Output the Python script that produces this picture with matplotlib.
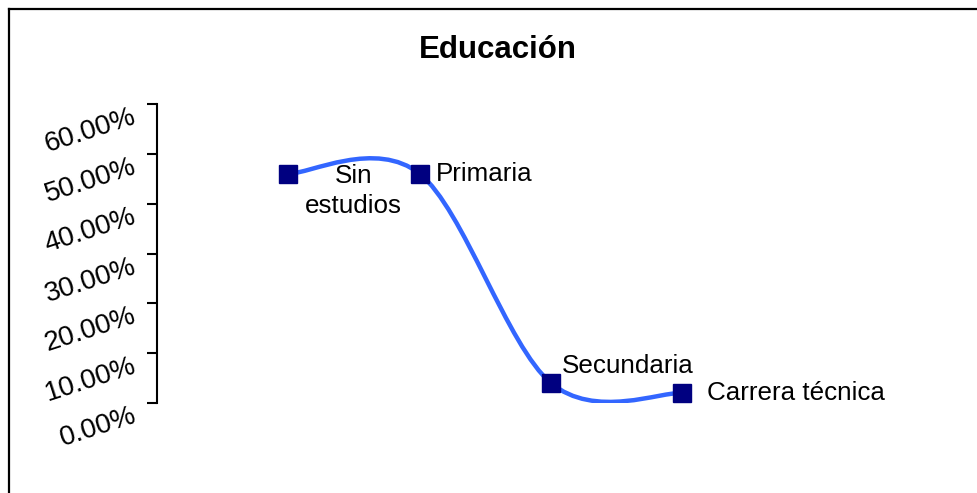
import numpy as np
import matplotlib
matplotlib.use("Agg")
from matplotlib import pyplot as plt
from matplotlib.path import Path
from matplotlib.patches import PathPatch
from matplotlib.lines import Line2D
from matplotlib.ticker import FuncFormatter

plt.rcParams['font.family'] = ['Liberation Sans', 'DejaVu Sans']

categories = ["Sin\nestudios", "Primaria", "Secundaria", "Carrera técnica"]
values = [46.0, 46.0, 4.0, 2.0]   # percent
yticks = [0, 10, 20, 30, 40, 50, 60]

fig = plt.figure(figsize=(9.77, 4.93), dpi=100)
W, H = 977.0, 493.0
ax = fig.add_axes([157 / W, 1 - 403 / H, (748 - 157) / W, (403 - 104) / H])

x = np.arange(len(values), dtype=float)
y = np.array(values, dtype=float)

# smoothed line (excel style bezier through the points)
pts = np.column_stack((x, y))
n = len(pts)
verts = [tuple(pts[0])]
codes = [Path.MOVETO]
for i in range(n - 1):
    p_prev = pts[i - 1] if i > 0 else pts[i]
    p_next2 = pts[i + 2] if i + 2 < n else pts[i + 1]
    c1 = pts[i] + (pts[i + 1] - p_prev) / 6.0
    c2 = pts[i + 1] - (p_next2 - pts[i]) / 6.0
    verts += [tuple(c1), tuple(c2), tuple(pts[i + 1])]
    codes += [Path.CURVE4] * 3
ax.add_patch(PathPatch(Path(verts, codes), facecolor='none', edgecolor='#3366ff', lw=3.2, zorder=2))

ax.plot(x, y, ls='none', marker='s', ms=13.5, color='#000080', zorder=3)

offsets = [(47, 7, 'center', 'top'), (11.5, 0, 'left', 'center'),
           (7.5, 12, 'left', 'center'), (18, 0, 'left', 'center')]
for xi, yi, lab, (dx, dy, ha, va) in zip(x, y, categories, offsets):
    ax.annotate(lab, (xi, yi), xytext=(dx, dy), textcoords='offset points',
                ha=ha, va=va, fontsize=18.7, linespacing=1.3, multialignment='center')

ax.set_xlim(-1.0, 3.5)
ax.set_ylim(0, 60)
ax.set_yticks(yticks)
ax.yaxis.set_major_formatter(FuncFormatter(lambda v, p: "%.2f%%" % v))
for s in ['top', 'right', 'bottom']:
    ax.spines[s].set_visible(False)
ax.spines['left'].set_linewidth(1.5)
ax.set_xticks([])
ax.tick_params(axis='y', direction='out', length=7.5, width=1.5, pad=11, labelsize=20)
for t in ax.get_yticklabels():
    t.set_rotation(18)
    t.set_rotation_mode('anchor')
    t.set_ha('right')
    t.set_va('top')

fig.text(497.5 / W, 1 - 58 / H, "Educación", ha='center', va='baseline',
         fontsize=22.5, fontweight='bold')

# outer frame (only left and top visible)
fig.add_artist(Line2D([8.5 / W, 8.5 / W], [0, 1 - 8.5 / H], color='black', lw=1.6,
                      transform=fig.transFigure))
fig.add_artist(Line2D([8.5 / W, 1], [1 - 8.5 / H, 1 - 8.5 / H], color='black', lw=1.6,
                      transform=fig.transFigure))

fig.savefig("out.png", dpi=100)
